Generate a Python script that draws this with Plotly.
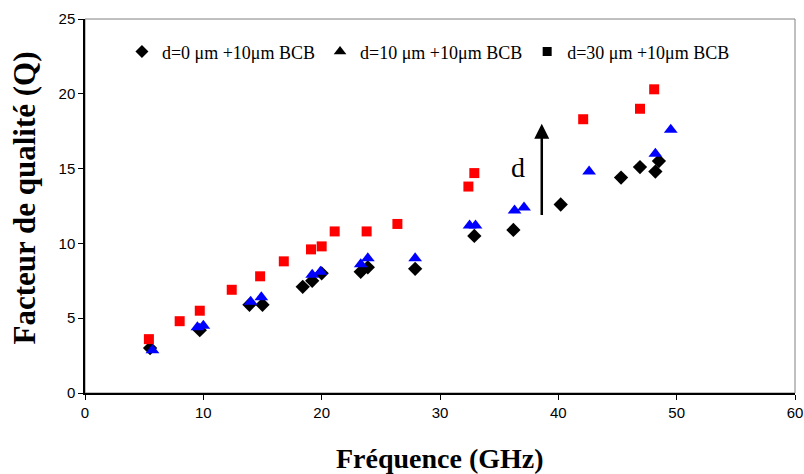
import plotly.graph_objects as go

# Data
x_d0 = [5.5, 9.7, 13.9, 15.0, 18.4, 19.2, 20.0, 23.3, 23.9, 27.9, 32.9, 36.2, 40.2, 45.3, 46.9, 48.2, 48.5]
y_d0 = [3.0, 4.2, 5.9, 5.9, 7.1, 7.5, 8.0, 8.1, 8.4, 8.3, 10.5, 10.9, 12.6, 14.4, 15.1, 14.8, 15.5]

x_d10 = [5.7, 9.5, 10.0, 14.0, 14.9, 19.2, 19.9, 23.3, 23.9, 27.9, 32.5, 33.0, 36.3, 37.1, 42.6, 48.2, 49.5]
y_d10 = [2.85, 4.4, 4.5, 6.1, 6.4, 7.9, 8.1, 8.6, 9.0, 9.0, 11.2, 11.2, 12.2, 12.4, 14.8, 16.0, 17.6]

x_d30 = [5.4, 8.0, 9.7, 12.4, 14.8, 16.8, 19.1, 20.0, 21.1, 23.8, 26.4, 32.4, 32.9, 42.1, 46.9, 48.1]
y_d30 = [3.6, 4.8, 5.5, 6.9, 7.8, 8.8, 9.6, 9.8, 10.8, 10.8, 11.3, 13.8, 14.7, 18.3, 19.0, 20.3]

names = ["d=0 \u03bcm +10\u03bcm BCB", "d=10 \u03bcm +10\u03bcm BCB", "d=30 \u03bcm +10\u03bcm BCB"]
symbols = ["diamond", "triangle-up", "square"]
sizes = [11, 12, 10]
colors = ["black", "#0000FF", "#FF0000"]

x_ticks = [0, 10, 20, 30, 40, 50, 60]
y_ticks = [0, 5, 10, 15, 20, 25]

arrow_x = 38.6
arrow_y0, arrow_y1 = 11.8, 18.0

fig = go.Figure()
series = [(x_d0, y_d0), (x_d10, y_d10), (x_d30, y_d30)]
for (xs, ys), sym, sz, col in zip(series, symbols, sizes, colors):
    fig.add_trace(go.Scatter(x=xs, y=ys, mode="markers", showlegend=False,
                             marker=dict(symbol=sym, size=sz, color=col, line=dict(width=0))))
# legend entries (black markers as in the reference)
for name, sym, sz in zip(names, symbols, sizes):
    fig.add_trace(go.Scatter(x=[None], y=[None], mode="markers", name=name,
                             marker=dict(symbol=sym, size=sz - 1, color="black")))

fig.add_annotation(x=arrow_x, y=arrow_y1, ax=arrow_x, ay=arrow_y0, xref="x", yref="y",
                   axref="x", ayref="y", showarrow=True, arrowhead=2, arrowsize=1.2,
                   arrowwidth=2.5, arrowcolor="black", text="")
fig.add_annotation(x=36.6, y=15.1, text="d", showarrow=False,
                   font=dict(family="Liberation Serif", size=28, color="black"))

# axis titles
fig.add_annotation(x=0.5, y=(393 - 458) / 374, xref="paper", yref="paper",
                   text="<b>Fr\u00e9quence (GHz)</b>", showarrow=False,
                   xanchor="center", yanchor="middle",
                   font=dict(family="Liberation Serif", size=28, color="black"))
fig.add_annotation(x=(25 - 85) / 710, y=0.52, xref="paper", yref="paper",
                   text="<b>Facteur de qualit\u00e9 (Q)</b>", showarrow=False, textangle=-90,
                   xanchor="center", yanchor="middle",
                   font=dict(family="Liberation Serif", size=31, color="black"))

fig.add_shape(type="rect", xref="paper", yref="paper", x0=0, y0=0, x1=1, y1=1,
              line=dict(color="#808080", width=1), layer="below")

fig.update_layout(
    width=804, height=474,
    margin=dict(l=85, r=9, t=19, b=81),
    paper_bgcolor="white", plot_bgcolor="white",
    font=dict(family="Liberation Sans", size=15, color="black"),
    legend=dict(orientation="h", x=0.052, y=0.912, xanchor="left", yanchor="middle",
                font=dict(family="Liberation Serif", size=18, color="black"),
                bgcolor="rgba(0,0,0,0)"),
    xaxis=dict(range=[0, 60], tickvals=x_ticks, showgrid=False, zeroline=False,
               showline=True, linecolor="black", linewidth=1.5, ticks="outside",
               ticklen=5, tickcolor="black", automargin=False),
    yaxis=dict(range=[0, 25], tickvals=y_ticks, showgrid=False, zeroline=False,
               showline=True, linecolor="black", linewidth=1.5, ticks="outside",
               ticklen=5, tickcolor="black", automargin=False),
)

fig.write_html("out.html", config={"displayModeBar": False},
               post_script="document.body.style.margin='0';document.body.style.overflow='hidden';")
